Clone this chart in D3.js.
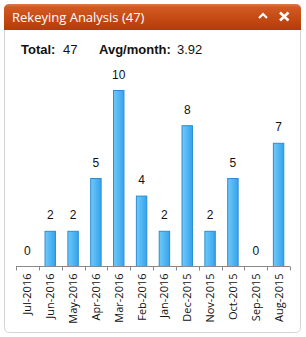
<!DOCTYPE html>
<html>
<head>
<meta charset="utf-8">
<script src="https://cdn.jsdelivr.net/npm/d3@7"></script>
<style>
  body { margin: 0; background: #fff; }
  svg { display: block; }
</style>
</head>
<body>
<svg id="canvas"></svg>
<script>
// chart data
const months = ['Jul-2016', 'Jun-2016', 'May-2016', 'Apr-2016', 'Mar-2016', 'Feb-2016',
    'Jan-2016', 'Dec-2015', 'Nov-2015', 'Oct-2015', 'Sep-2015', 'Aug-2015']
const counts = [0, 2, 2, 5, 10, 4, 2, 8, 2, 5, 0, 7]
const panelTitle = 'Rekeying Analysis (47)'
const totalLabel = 'Total:'
const totalValue = '47'
const avgLabel = 'Avg/month:'
const avgValue = '3.92'

const width = 306, height = 337
const svg = d3.select('#canvas').attr('width', width).attr('height', height)

const dataset = months.map((m, i) => ({ month: m, value: counts[i] }))

const defs = svg.append('defs')
const headGrad = defs.append('linearGradient').attr('id', 'head').attr('x1', 0).attr('y1', 0).attr('x2', 0).attr('y2', 1)
headGrad.append('stop').attr('offset', '0%').attr('stop-color', '#e07a4a')
headGrad.append('stop').attr('offset', '12%').attr('stop-color', '#d25a22')
headGrad.append('stop').attr('offset', '100%').attr('stop-color', '#b63a06')

const barGrad = defs.append('linearGradient').attr('id', 'bar').attr('x1', 0).attr('y1', 0).attr('x2', 1).attr('y2', 0)
barGrad.append('stop').attr('offset', '0%').attr('stop-color', '#6fcaf9')
barGrad.append('stop').attr('offset', '100%').attr('stop-color', '#34a3ec')

// panel body with rounded bottom corners
const px = 4.5, pw = 296, ptop = 4.5, pbottom = 332.5, r = 5
svg.append('path')
    .attr('d', `M${px},${ptop + r} Q${px},${ptop} ${px + r},${ptop} H${px + pw - r} Q${px + pw},${ptop} ${px + pw},${ptop + r}
        V${pbottom - r} Q${px + pw},${pbottom} ${px + pw - r},${pbottom} H${px + r} Q${px},${pbottom} ${px},${pbottom - r} Z`)
    .attr('fill', '#fff')
    .attr('stroke', '#d4d4d4')

// header
svg.append('path')
    .attr('d', `M${px - 0.5},30 V${ptop + r} Q${px - 0.5},${ptop - 0.5} ${px + r},${ptop - 0.5} H${px + pw - r} Q${px + pw + 0.5},${ptop - 0.5} ${px + pw + 0.5},${ptop + r} V30 Z`)
    .attr('fill', 'url(#head)')

svg.append('text')
    .attr('x', 12).attr('y', 22)
    .attr('font-family', '"Segoe UI", "Open Sans", sans-serif')
    .attr('font-size', 13)
    .attr('fill', '#fff')
    .text(panelTitle)

// header icons
svg.append('path')
    .attr('d', 'M259,18 L263,14 L267,18')
    .attr('fill', 'none').attr('stroke', '#fff').attr('stroke-width', 2.2)
svg.append('path')
    .attr('d', 'M280,12.5 L288.5,20.5 M288.5,12.5 L280,20.5')
    .attr('fill', 'none').attr('stroke', '#fff').attr('stroke-width', 2.6)

// summary line
const summary = svg.append('text')
    .attr('y', 54)
    .attr('font-family', '"Liberation Sans", Arial, sans-serif')
    .attr('font-size', 13)
    .attr('fill', '#111')
summary.append('tspan').attr('x', 21).attr('font-weight', 'bold').text(totalLabel)
summary.append('tspan').attr('x', 63).text(totalValue)
summary.append('tspan').attr('x', 99).attr('font-weight', 'bold').text(avgLabel)
summary.append('tspan').attr('x', 177).text(avgValue)

// chart
const xScale = d3.scaleBand().domain(months).range([16, 290]).paddingInner(0).paddingOuter(0)
const yScale = d3.scaleLinear().domain([0, 10]).range([266, 90])

const g = svg.append('g')

g.selectAll('rect.bar')
    .data(dataset.filter(d => d.value > 0))
    .enter()
    .append('rect')
        .attr('class', 'bar')
        .attr('x', d => xScale(d.month) + xScale.bandwidth() * 0.25 + 0.5)
        .attr('y', d => yScale(d.value) + 0.5)
        .attr('width', xScale.bandwidth() * 0.5 - 1)
        .attr('height', d => yScale(0) - yScale(d.value))
        .attr('fill', 'url(#bar)')
        .attr('stroke', '#2b8cd3')
        .attr('stroke-width', 1)

g.selectAll('text.val')
    .data(dataset)
    .enter()
    .append('text')
        .attr('class', 'val')
        .attr('x', d => xScale(d.month) + xScale.bandwidth() / 2)
        .attr('y', d => yScale(d.value) - 11.5)
        .attr('text-anchor', 'middle')
        .attr('font-family', '"Liberation Sans", Arial, sans-serif')
        .attr('font-size', 12)
        .attr('fill', '#111')
        .text(d => d.value)

// x axis: ticks at band edges
const axis = g.append('g').attr('transform', 'translate(0,266.5)')
axis.append('line')
    .attr('x1', 16).attr('x2', 290)
    .attr('stroke', '#888')
const edges = months.map(m => xScale(m)).concat([xScale.range()[1]])
axis.selectAll('line.tick')
    .data(edges)
    .enter()
    .append('line')
        .attr('class', 'tick')
        .attr('x1', d => Math.round(d) + 0.5).attr('x2', d => Math.round(d) + 0.5)
        .attr('y1', 0).attr('y2', 4)
        .attr('stroke', '#888')

axis.selectAll('text.lbl')
    .data(months)
    .enter()
    .append('text')
        .attr('class', 'lbl')
        .attr('transform', d => `translate(${xScale(d) + xScale.bandwidth() / 2 + 4}, 7) rotate(-90)`)
        .attr('text-anchor', 'end')
        .attr('font-family', '"Segoe UI", "Open Sans", sans-serif')
        .attr('font-size', 11)
        .attr('fill', '#111')
        .text(d => d)
</script>
</body>
</html>
